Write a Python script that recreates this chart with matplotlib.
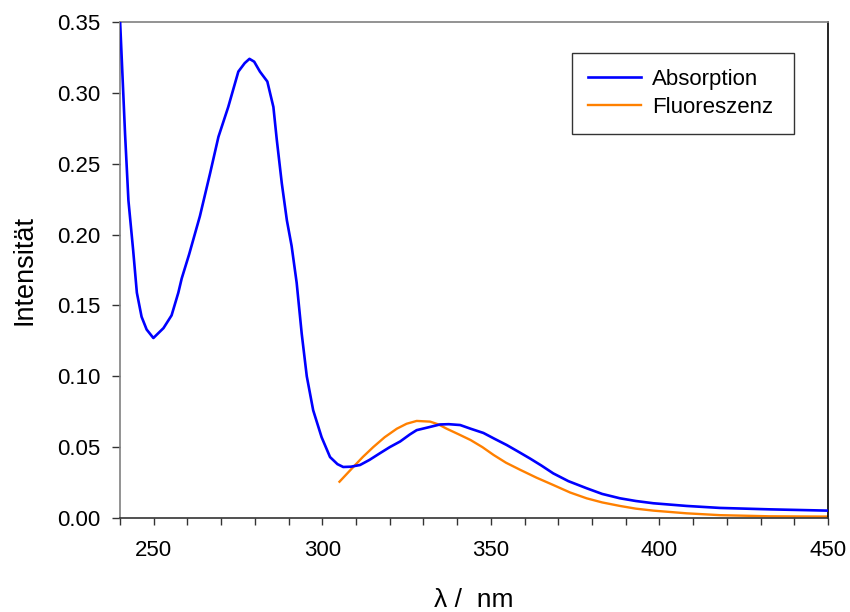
import numpy as np
import matplotlib
matplotlib.use('Agg')
import matplotlib.pyplot as plt
from matplotlib.ticker import MultipleLocator, FuncFormatter

plt.rcParams['font.family'] = ['Liberation Sans', 'DejaVu Sans']

# Absorption (nm, Intensitaet)
abs_nm = [240.0, 241.5, 242.5, 243.9, 245.0, 246.4, 247.9, 249.9, 252.9, 255.3,
          257.3, 258.3, 260.5, 263.7, 266.7, 269.2, 272.1, 275.1, 277.0, 278.4,
          279.8, 281.5, 283.7, 285.5, 286.5, 288.0, 289.5, 290.9, 292.4, 293.9,
          295.4, 297.3, 299.8, 302.3, 304.5, 306.2, 308.5, 311.2, 314.0, 317.1,
          320.0, 323.1, 326.0, 328.0, 331.5, 334.9, 337.5, 340.9, 344.0, 347.8,
          351.0, 354.7, 358.0, 361.6, 365.0, 368.5, 373.0, 378.4, 383.0, 388.3,
          393.0, 398.2, 408.1, 418.0, 432.8, 450.0]
abs_int = [0.352, 0.271, 0.224, 0.189, 0.159, 0.142, 0.133, 0.127, 0.134, 0.143,
           0.159, 0.169, 0.186, 0.213, 0.243, 0.269, 0.290, 0.315, 0.321, 0.324,
           0.322, 0.315, 0.308, 0.290, 0.267, 0.236, 0.210, 0.192, 0.166, 0.130,
           0.100, 0.076, 0.057, 0.043, 0.038, 0.036, 0.0362, 0.0374, 0.041, 0.0457,
           0.050, 0.054, 0.059, 0.062, 0.064, 0.066, 0.0662, 0.0656, 0.063, 0.060,
           0.056, 0.0515, 0.047, 0.042, 0.037, 0.0315, 0.026, 0.021, 0.017, 0.0139,
           0.012, 0.0104, 0.0085, 0.0071, 0.0061, 0.0052]

# Fluoreszenz (nm, Intensitaet)
fl_nm = [305.1, 309.2, 312.0, 315.1, 318.5, 322.1, 325.0, 328.0, 332.0, 334.5,
         336.9, 340.5, 344.0, 347.5, 350.8, 354.5, 358.7, 363.5, 368.5, 373.5,
         378.4, 383.0, 388.3, 393.0, 398.2, 408.1, 418.0, 432.8, 450.0]
fl_int = [0.0256, 0.036, 0.043, 0.050, 0.057, 0.063, 0.0665, 0.0685, 0.0680, 0.066,
          0.063, 0.059, 0.055, 0.050, 0.0445, 0.039, 0.034, 0.0285, 0.0233, 0.018,
          0.0139, 0.011, 0.0085, 0.0066, 0.0052, 0.0033, 0.0020, 0.0012, 0.0010]

fig = plt.figure(figsize=(8.5, 6.12), dpi=100)
ax = fig.add_axes([120/850, 94/612, 708/850, 496/612])

ax.plot(abs_nm, abs_int, color='#0000FF', lw=1.9, label='Absorption', zorder=3)
ax.plot(fl_nm, fl_int, color='#FF8000', lw=1.7, label='Fluoreszenz', zorder=2)

ax.set_xlim(240, 450)
ax.set_ylim(0, 0.35)
ax.xaxis.set_major_locator(MultipleLocator(10))
ax.xaxis.set_major_formatter(FuncFormatter(lambda v, p: f'{v:.0f}' if round(v) % 50 == 0 else ''))
ax.yaxis.set_major_locator(MultipleLocator(0.05))
ax.yaxis.set_major_formatter(FuncFormatter(lambda v, p: f'{v:.2f}'))
ax.tick_params(axis='x', direction='out', length=5, width=1, labelsize=16, pad=11, color='#333333')
ax.tick_params(axis='y', direction='out', length=6, width=1, labelsize=16, pad=8, color='#333333')

ax.spines['left'].set_color('#808080')
ax.spines['top'].set_color('#808080')
ax.spines['bottom'].set_color('#333333')
ax.spines['right'].set_color('black')
for s in ax.spines.values():
    s.set_linewidth(1.2)

ax.set_ylabel('Intensität', fontsize=19.5, labelpad=14)
ax.set_xlabel('λ /  nm', fontsize=19, labelpad=19)

leg = ax.legend(loc='upper left', bbox_to_anchor=(0.6384, 0.5, 0.3136, 0.4375),
                mode='expand', borderaxespad=0,
                fontsize=16, handlelength=2.4, handletextpad=0.5, labelspacing=0.3,
                borderpad=0.72, fancybox=False, framealpha=1, edgecolor='#333333')
leg.get_frame().set_linewidth(1.0)

fig.savefig('out.png', dpi=100)
